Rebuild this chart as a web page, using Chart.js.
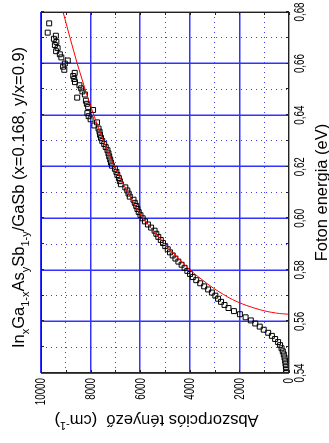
<!DOCTYPE html>
<html><head><meta charset="utf-8">
<script src="https://cdn.jsdelivr.net/npm/chart.js@4"></script>
<style>
html,body{margin:0;padding:0;background:#fff;overflow:hidden;width:329px;height:443px;}
#wrap{position:absolute;left:0;top:0;width:443px;height:329px;transform-origin:0 0;transform:translate(0px,443px) rotate(-90deg);background:#fff;}
canvas{display:block;}
</style></head><body>
<div id="wrap"><canvas id="c" width="443" height="329"></canvas></div>
<script>
// ---- data ----
const energy = [0.5400,0.5412,0.5424,0.5436,0.5448,0.5460,0.5472,0.5484,0.5496,0.5508,0.5520,0.5532,0.5544,0.5556,0.5568,0.5580,0.5592,0.5604,0.5616,0.5628,0.5640,0.5652,0.5664,0.5676,0.5688,0.5700,0.5712,0.5724,0.5736,0.5748,0.5760,0.5772,0.5784,0.5796,0.5808,0.5820,0.5832,0.5844,0.5856,0.5868,0.5880,0.5892,0.5904,0.5916,0.5928,0.5940,0.5952,0.5964,0.5976,0.5988,0.6000,0.6012,0.6024,0.6036,0.6048,0.6060,0.6072,0.6084,0.6096,0.6108,0.6120,0.6132,0.6144,0.6156,0.6168,0.6180,0.6192,0.6204,0.6216,0.6228,0.6240,0.6252,0.6264,0.6276,0.6288,0.6300,0.6312,0.6324,0.6336,0.6348,0.6360,0.6372,0.6384,0.6396,0.6408,0.6420,0.6432,0.6444,0.6456,0.6468,0.6480,0.6492,0.6504,0.6516,0.6528,0.6540,0.6552,0.6564,0.6576,0.6588,0.6600,0.6612,0.6624,0.6636,0.6648,0.6660,0.6672,0.6684,0.6696,0.6708,0.6720,0.6756];
const absorption = [110,115,125,140,155,180,210,250,300,360,440,560,690,840,1020,1180,1360,1540,1750,1980,2220,2440,2600,2740,2860,2970,3110,3260,3420,3580,3740,3880,3990,4100,4210,4330,4460,4580,4690,4800,4890,4990,5080,5170,5270,5350,5420,5560,5690,5810,5900,5990,6060,6110,6160,6220,6270,6420,6470,6520,6600,6780,6820,6860,6920,6960,7020,7140,7180,7210,7250,7280,7320,7390,7450,7530,7580,7620,7640,7680,7850,7740,8000,8080,8130,7900,8100,8150,8190,8540,8230,8330,8380,8450,8630,8660,8700,8640,9060,9110,9040,8920,9180,9240,9390,9330,9440,9380,9480,9400,9730,9670];
const fitEnergy = [0.5628,0.5630,0.5633,0.5638,0.5645,0.5655,0.5668,0.5685,0.5705,0.5730,0.5760,0.5800,0.5850,0.5900,0.5950,0.6000,0.6100,0.6200,0.6300,0.6400,0.6500,0.6600,0.6700,0.6800];
const fitAbsorption = [0,300,550,850,1150,1500,1880,2280,2650,3060,3480,4000,4520,5000,5450,5880,6500,7030,7480,7870,8220,8540,8830,9110];

const xGridValues = [0.54,0.55,0.56,0.57,0.58,0.59,0.60,0.61,0.62,0.63,0.64,0.65,0.66,0.67,0.68];
const yGridValues = [0,1000,2000,3000,4000,5000,6000,7000,8000,9000,10000];
const xTickValues = [0.54,0.56,0.58,0.60,0.62,0.64,0.66,0.68];
const xTickLabels = ['0,54','0,56','0,58','0,60','0,62','0,64','0,66','0,68'];
const yTickValues = [0,2000,4000,6000,8000,10000];
const yTickLabels = ['0','2000','4000','6000','8000','10000'];
const titleParts = [['In',0],['x',1],['Ga',0],['1-x',1],['As',0],['y',1],['Sb',0],['1-y',1],['/GaSb (x=0.168, y/x=0.9)',0]];
const xTitle = 'Foton energia (eV)';
const yTitleParts = [['Abszorpciós tényező  (cm',0],['-1',2],[')',0]];

const FONT = '"Liberation Sans", Arial, Helvetica, sans-serif';
const MAJOR = 'rgb(50,50,255)', MINOR = 'rgb(60,60,255)';

function drawParts(ctx, parts, cx, baseY, size, subSize) {
  let total = 0;
  const w = parts.map(p => { ctx.font = (p[1] ? subSize : size) + 'px ' + FONT; const m = ctx.measureText(p[0]).width; total += m; return m; });
  let x = cx - total / 2;
  ctx.textAlign = 'left'; ctx.textBaseline = 'alphabetic';
  parts.forEach((p, i) => {
    ctx.font = (p[1] ? subSize : size) + 'px ' + FONT;
    const dy = p[1] === 1 ? size * 0.28 : (p[1] === 2 ? -size * 0.38 : 0);
    ctx.fillText(p[0], x, baseY + dy);
    x += w[i];
  });
}

const decor = {
  id: 'decor',
  afterDraw(chart) {
    const ctx = chart.ctx;
    const {left, right, top, bottom} = chart.chartArea;
    const xs = chart.scales.x, ys = chart.scales.y;
    ctx.save();
    ctx.setLineDash([]);
    ctx.strokeStyle = '#222'; ctx.lineWidth = 1;
    // small inward tick marks
    ctx.beginPath();
    xGridValues.forEach(v => { const p = Math.round(xs.getPixelForValue(v)) + 0.5;
      ctx.moveTo(p, bottom); ctx.lineTo(p, bottom - 3); ctx.moveTo(p, top); ctx.lineTo(p, top + 3); });
    yGridValues.forEach(v => { const p = Math.round(ys.getPixelForValue(v)) + 0.5;
      ctx.moveTo(left, p); ctx.lineTo(left + 3, p); ctx.moveTo(right, p); ctx.lineTo(right - 3, p); });
    ctx.stroke();
    // frame
    ctx.strokeRect(Math.round(left) + 0.5, Math.round(top) + 0.5, Math.round(right - left) - 1, Math.round(bottom - top) - 1);
    // tick labels (narrow)
    ctx.fillStyle = '#000';
    ctx.font = '14px ' + FONT;
    ctx.textAlign = 'center'; ctx.textBaseline = 'alphabetic';
    xTickValues.forEach((v, i) => { const p = xs.getPixelForValue(v);
      ctx.save(); ctx.translate(p, bottom + 15); ctx.scale(0.7, 1); ctx.fillText(xTickLabels[i], 0, 0); ctx.restore(); });
    ctx.textAlign = 'right'; ctx.textBaseline = 'middle';
    yTickValues.forEach((v, i) => { const p = ys.getPixelForValue(v);
      ctx.save(); ctx.translate(left - 5, p + 0.5); ctx.scale(0.7, 1); ctx.fillText(yTickLabels[i], 0, 0); ctx.restore(); });
    // axis titles
    ctx.font = '16.5px ' + FONT; ctx.textAlign = 'center'; ctx.textBaseline = 'alphabetic';
    ctx.fillText(xTitle, 250.5, 327);
    ctx.save(); ctx.translate(27.5, 156.5); ctx.rotate(-Math.PI / 2);
    drawParts(ctx, yTitleParts, 0, 0, 16.5, 11);
    ctx.restore();
    // main title
    drawParts(ctx, titleParts, 245.5, 24, 16.5, 11);
    ctx.restore();
  }
};

const isMajorX = v => Math.round(v * 100) % 2 === 0;
const isMajorY = v => Math.round(v / 1000) % 2 === 0;

new Chart(document.getElementById('c'), {
  type: 'scatter',
  data: {
    datasets: [
      { label: 'fit', data: fitEnergy.map((e, i) => ({x: e, y: fitAbsorption[i]})), showLine: true,
        borderColor: '#ff0000', borderWidth: 1, pointRadius: 0, fill: false, cubicInterpolationMode: 'monotone' },
      { label: 'meres', data: energy.map((e, i) => ({x: e, y: absorption[i]})), showLine: false,
        pointStyle: 'rect', pointRadius: 3.5, borderColor: '#000', borderWidth: 1, backgroundColor: 'rgba(0,0,0,0)' }
    ]
  },
  options: {
    responsive: false, animation: false, devicePixelRatio: 1,
    layout: { padding: { left: 70, right: 12, top: 41, bottom: 40 } },
    plugins: { legend: { display: false }, tooltip: { enabled: false }, title: { display: false } },
    scales: {
      x: { type: 'linear', min: 0.54, max: 0.68,
        afterBuildTicks: s => { s.ticks = xGridValues.map(v => ({value: v})); },
        ticks: { display: false },
        grid: { drawTicks: false,
          lineWidth: c => isMajorX(c.tick ? c.tick.value : 0) ? 1.5 : 1,
          color: c => isMajorX(c.tick ? c.tick.value : 0) ? MAJOR : MINOR },
        border: { display: false, dash: c => (c.tick && !isMajorX(c.tick.value)) ? [1, 4] : [] } },
      y: { type: 'linear', min: 0, max: 10000,
        afterBuildTicks: s => { s.ticks = yGridValues.map(v => ({value: v})); },
        ticks: { display: false },
        grid: { drawTicks: false,
          lineWidth: c => isMajorY(c.tick ? c.tick.value : 0) ? 1.5 : 1,
          color: c => isMajorY(c.tick ? c.tick.value : 0) ? MAJOR : MINOR },
        border: { display: false, dash: c => (c.tick && !isMajorY(c.tick.value)) ? [1, 4] : [] } }
    }
  },
  plugins: [decor]
});
</script>
</body></html>
